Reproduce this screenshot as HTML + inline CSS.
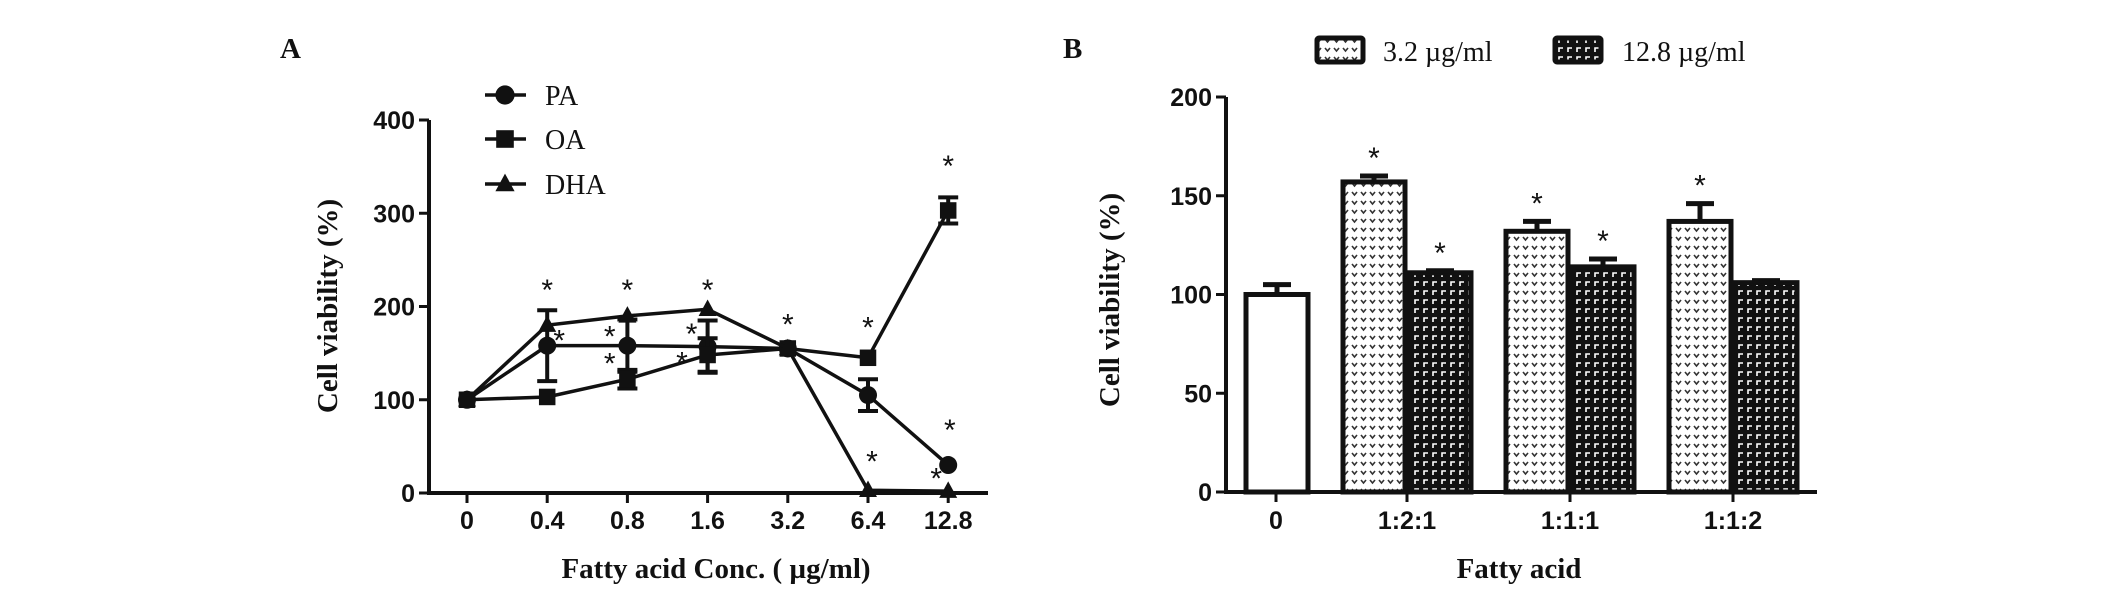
<!DOCTYPE html>
<html><head><meta charset="utf-8"><style>
html,body{margin:0;padding:0;background:#fff;}
svg{display:block;}
.tk{font-family:"Liberation Sans",sans-serif;font-weight:bold;font-size:25px;fill:#111;}
.ti{font-family:"Liberation Serif",serif;font-weight:bold;font-size:29px;fill:#111;}
.lg{font-family:"Liberation Serif",serif;font-size:28px;fill:#111;}
.st{font-family:"Liberation Sans",sans-serif;font-size:30px;fill:#111;}
</style></head><body>
<svg id="chart" width="2126" height="592" viewBox="0 0 2126 592" xmlns="http://www.w3.org/2000/svg">
<defs>
<pattern id="pl" width="9" height="9" patternUnits="userSpaceOnUse"><rect width="9" height="9" fill="#fff"/><path d="M2 3 L4.5 6 L7 3" stroke="#333" stroke-width="1.6" fill="none"/></pattern>
<pattern id="pd" width="9" height="9" patternUnits="userSpaceOnUse"><rect width="9" height="9" fill="#111"/><path d="M2 7 L2 3 L6 3" stroke="#fff" stroke-width="1.6" fill="none"/></pattern>
</defs>
<g id="pa"></g>
<g id="pb"></g>
</svg>
<script>
// Panel A data
const concLabels = ["0","0.4","0.8","1.6","3.2","6.4","12.8"];
const paVals = [100,158,158,157,155,105,30];
const paErr = [0,38,28,28,0,17,0];
const oaVals = [100,103,122,148,155,145,303];
const oaErr = [0,0,10,18,0,0,14];
const dhaVals = [100,180,190,197,155,3,2];
const dhaErr = [0,0,0,0,0,0,0];
const yTicksA = [0,100,200,300,400];
// Panel B data
const groupLabels = ["0","1:2:1","1:1:1","1:1:2"];
const ctrlVal = [100];
const ctrlErr = [5];
const lowVals = [157,132,137];
const lowErr = [3,5,9];
const highVals = [111,114,106];
const highErr = [1,4,1];
const yTicksB = [0,50,100,150,200];

const NS="http://www.w3.org/2000/svg";
function mk(parent,tag,attrs,text){const e=document.createElementNS(NS,tag);for(const k in attrs)e.setAttribute(k,attrs[k]);if(text!==undefined)e.textContent=text;parent.appendChild(e);return e;}

// ---- Panel A ----
const A=document.getElementById('pa');
const ax0=429, ay0=493, ay1=120;
const xA=i=>467+i*80.2;
const yA=v=>ay0-(v/400)*(ay0-ay1);
let t=mk(A,'text',{x:280,y:58,class:'ti','font-size':34},'A');

let l=mk(A,'line',{x1:ax0,y1:ay1,x2:ax0,y2:ay0+2,stroke:'#111','stroke-width':4});

l=mk(A,'line',{x1:ax0-2,y1:ay0,x2:988,y2:ay0,stroke:'#111','stroke-width':4});

yTicksA.forEach(v=>{
 const tl=mk(A,'line',{x1:ax0-10,y1:yA(v),x2:ax0,y2:yA(v),stroke:'#111','stroke-width':3});
 
 const tx=mk(A,'text',{x:ax0-14,y:yA(v)+9,class:'tk','text-anchor':'end'},v);
 
});
concLabels.forEach((c,i)=>{
 const tl=mk(A,'line',{x1:xA(i),y1:ay0,x2:xA(i),y2:ay0+10,stroke:'#111','stroke-width':3});
 
 const tx=mk(A,'text',{x:xA(i),y:529,class:'tk','text-anchor':'middle'},c);
 
});
t=mk(A,'text',{x:0,y:0,class:'ti',transform:'translate(337,306) rotate(-90)','text-anchor':'middle'},'Cell viability (%)');

t=mk(A,'text',{x:716,y:578,class:'ti','text-anchor':'middle'},'Fatty acid Conc. (  µg/ml)');


function marker(g,kind,x,y,s){
 if(kind==='c') return mk(g,'circle',{cx:x,cy:y,r:s*0.6,fill:'#111'});
 if(kind==='s') return mk(g,'rect',{x:x-s*0.55,y:y-s*0.55,width:s*1.1,height:s*1.1,fill:'#111'});
 return mk(g,'polygon',{points:`${x},${y-s*0.65} ${x+s*0.6},${y+s*0.45} ${x-s*0.6},${y+s*0.45}`,fill:'#111'});
}
const series=[["pa",paVals,paErr,'c'],["oa",oaVals,oaErr,'s'],["dha",dhaVals,dhaErr,'t']];
series.forEach(([nm,vals,errs,k])=>{
 const g=mk(A,'g',{});
 
 const p=mk(g,'polyline',{points:vals.map((v,i)=>xA(i)+','+yA(v)).join(' '),fill:'none',stroke:'#111','stroke-width':3.5});
 
 vals.forEach((v,i)=>{
  if(errs[i]>0){
   const e=mk(g,'path',{d:`M${xA(i)},${yA(v+errs[i])}V${yA(v-errs[i])}M${xA(i)-10},${yA(v+errs[i])}h20M${xA(i)-10},${yA(v-errs[i])}h20`,stroke:'#111','stroke-width':4,fill:'none'});
   
  }
  const m=marker(g,k,xA(i),yA(v),15);
  
 });
});
// significance stars (panel A)
const starsA=[[1,222],[1.15,168],[2,222],[1.78,172],[1.78,143],[3,222],[2.8,175],[2.68,144],[4,185],[5,182],[6,355],[6.02,72],[5.05,38],[5.85,20]];
starsA.forEach(([i,v])=>{const s=mk(A,'text',{x:xA(i),y:yA(v)+14,class:'st','text-anchor':'middle'},'*');});
// legend A
[["PA",'c',95],["OA",'s',139],["DHA",'t',184]].forEach(([n,k,y])=>{
 const g=mk(A,'g',{});
 
 mk(g,'line',{x1:485,y1:y,x2:526,y2:y,stroke:'#111','stroke-width':3.5});
 marker(g,k,505,y,16);
 mk(g,'text',{x:545,y:y+10,class:'lg'},n);
});

// ---- Panel B ----
const B=document.getElementById('pb');
const bx0=1226, by0=492, by1=97;
const yB=v=>by0-(v/200)*(by0-by1);
const groupX=[1276,1407,1570,1733];
const bw=66;
t=mk(B,'text',{x:1063,y:58,class:'ti','font-size':34},'B');

l=mk(B,'line',{x1:bx0,y1:by1,x2:bx0,y2:by0+2,stroke:'#111','stroke-width':4});

l=mk(B,'line',{x1:bx0-2,y1:by0,x2:1817,y2:by0,stroke:'#111','stroke-width':4});

yTicksB.forEach(v=>{
 const tl=mk(B,'line',{x1:bx0-10,y1:yB(v),x2:bx0,y2:yB(v),stroke:'#111','stroke-width':3});
 
 const tx=mk(B,'text',{x:bx0-14,y:yB(v)+9,class:'tk','text-anchor':'end'},v);
 
});
groupLabels.forEach((c,i)=>{
 const tl=mk(B,'line',{x1:groupX[i],y1:by0,x2:groupX[i],y2:by0+10,stroke:'#111','stroke-width':3});
 
 const tx=mk(B,'text',{x:groupX[i],y:529,class:'tk','text-anchor':'middle'},c);
 
});
t=mk(B,'text',{x:0,y:0,class:'ti',transform:'translate(1119,300) rotate(-90)','text-anchor':'middle'},'Cell viability (%)');

t=mk(B,'text',{x:1519,y:578,class:'ti','text-anchor':'middle'},'Fatty acid');


function bar(x0,v,err,fill,name,star){
 const r=mk(B,'rect',{x:x0+2,y:yB(v),width:bw-4,height:by0-yB(v),fill:fill,stroke:'#111','stroke-width':5});
 
 const cx=x0+bw/2;
 const e=mk(B,'path',{d:`M${cx},${yB(v)}V${yB(v+err)}M${cx-14},${yB(v+err)}h28`,stroke:'#111','stroke-width':5,fill:'none'});
 
 if(star){const s=mk(B,'text',{x:cx,y:yB(v+err)-8,class:'st','text-anchor':'middle'},'*');}
}
bar(groupX[0]-bw/2+1,ctrlVal[0],ctrlErr[0],'#fff','bar-control',false);
const highStar=[true,true,false];
lowVals.forEach((v,i)=>bar(groupX[i+1]-bw,v,lowErr[i],'url(#pl)','bar-3.2-'+groupLabels[i+1],true));
highVals.forEach((v,i)=>bar(groupX[i+1],v,highErr[i],'url(#pd)','bar-12.8-'+groupLabels[i+1],highStar[i]));
// legend B
[["3.2 µg/ml",'url(#pl)',1317,1383],["12.8 µg/ml",'url(#pd)',1555,1622]].forEach(([n,f,bx,tx])=>{
 const g=mk(B,'g',{});
 
 mk(g,'rect',{x:bx,y:38,width:46,height:24,fill:f,stroke:'#111','stroke-width':5,rx:2});
 mk(g,'text',{x:tx,y:61,class:'lg'},n);
});
</script>
</body></html>
